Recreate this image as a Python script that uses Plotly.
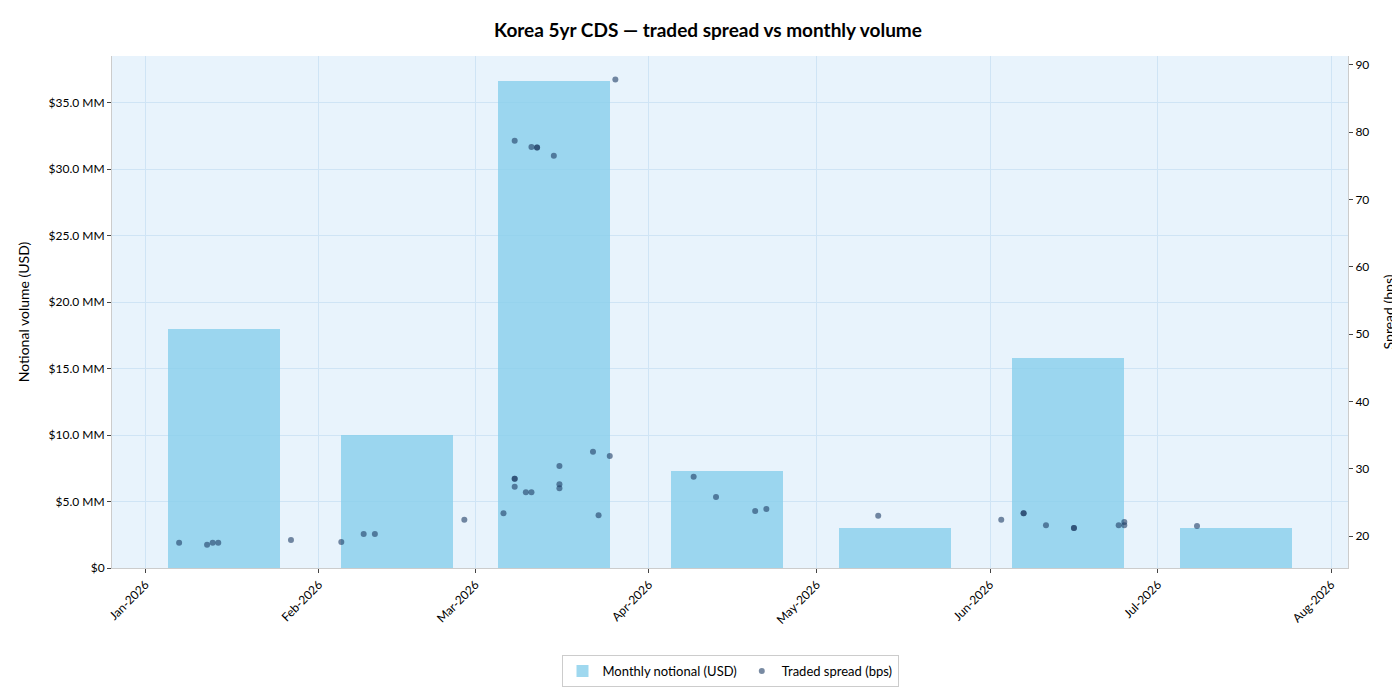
import plotly.graph_objects as go

months = ["2026-01-15","2026-02-15","2026-03-15","2026-04-15","2026-05-15","2026-06-15","2026-07-15"]
volume = [18.0e6, 10.0e6, 36.6e6, 7.3e6, 3.0e6, 15.8e6, 3.0e6]

trade_dates = ["2026-01-07","2026-01-12","2026-01-13","2026-01-14","2026-01-27","2026-02-05","2026-02-09","2026-02-11",
 "2026-02-27","2026-03-06","2026-03-08","2026-03-08","2026-03-08","2026-03-08","2026-03-11","2026-03-12","2026-03-12","2026-03-10","2026-03-11",
 "2026-03-15","2026-03-16","2026-03-16","2026-03-16","2026-03-22","2026-03-23","2026-03-25","2026-03-26",
 "2026-04-09","2026-04-13","2026-04-20","2026-04-22","2026-05-12",
 "2026-06-03","2026-06-07","2026-06-07","2026-06-11","2026-06-16","2026-06-16","2026-06-24","2026-06-25","2026-06-25","2026-07-08"]
spreads = [19.0,18.7,19.0,19.0,19.4,19.1,20.3,20.3,
 22.4,23.4,78.7,28.5,28.5,27.3,77.8,77.7,77.7,26.5,26.5,
 76.5,27.7,30.4,27.1,32.5,23.1,31.9,87.8,
 28.8,25.8,23.7,24.0,23.0,
 22.4,23.4,23.4,21.6,21.2,21.2,21.6,21.6,22.1,21.5]

font = "Lato"
fig = go.Figure()
fig.add_trace(go.Bar(x=months, y=volume, width=20*86400000, name="Monthly notional (USD)",
    marker=dict(color="rgba(135,206,235,0.8)", line=dict(width=0))))
fig.add_trace(go.Scatter(x=trade_dates, y=spreads, mode="markers", yaxis="y2", name="Traded spread (bps)",
    marker=dict(size=6, color="rgba(30,60,100,0.6)", line=dict(width=0))))

tickvals = [i*5e6 for i in range(8)]
ticktext = ["$0"] + [f"${v/1e6:.1f} MM" for v in tickvals[1:]]
fig.update_layout(
    width=1400, height=700, paper_bgcolor="white", plot_bgcolor="#e8f3fc",
    font=dict(family=font, size=12, color="black"),
    title=dict(text="<b>Korea 5yr CDS — traded spread vs monthly volume</b>", x=0.5, y=0.968,
               yanchor="middle", font=dict(size=19), automargin=False),
    margin=dict(l=104, r=60, t=48, b=140, autoexpand=False),
    xaxis=dict(type="date", range=["2025-12-26","2026-08-04"], dtick="M1", tickformat="%b-%Y", tickangle=-45,
               tick0="2026-01-01", showgrid=True, gridcolor="#cfe4f5", ticks="outside", ticklen=4,
               showline=True, linecolor="#cccccc", zeroline=False, automargin=False),
    yaxis=dict(title=dict(text="Notional volume (USD)", font=dict(size=14)), range=[0, 38.5e6], tickvals=tickvals, ticktext=ticktext,
               gridcolor="#cfe4f5", zeroline=False, ticks="outside", ticklen=4, showline=True, linecolor="#cccccc",
               automargin=False),
    yaxis2=dict(title=dict(text="Spread (bps)", font=dict(size=14)), overlaying="y", side="right", range=[15.25, 91.3], dtick=10,
                showgrid=False, zeroline=False, ticks="outside", ticklen=4, showline=True, linecolor="#cccccc",
                automargin=False),
    legend=dict(orientation="h", x=0.5, xanchor="center", y=-0.17, yanchor="top",
                bordercolor="#cccccc", borderwidth=1, font=dict(size=13)),
    bargap=0,
)
fig.write_html("out.html")
